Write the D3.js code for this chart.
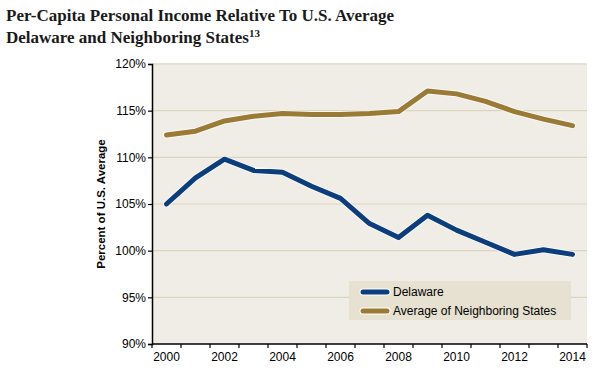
<!DOCTYPE html>
<html>
<head>
<meta charset="utf-8">
<script src="https://cdn.jsdelivr.net/npm/d3@7"></script>
<style>
  body { margin: 0; background: #fff; }
  svg { display: block; }
</style>
</head>
<body>
<script>
// chart data
const years = d3.range(2000, 2015);
const delaware = [105.0, 107.8, 109.8, 108.6, 108.4, 106.9, 105.6, 102.9, 101.4, 103.8, 102.2, 100.9, 99.6, 100.1, 99.6];
const neighbors = [112.4, 112.8, 113.9, 114.4, 114.7, 114.6, 114.6, 114.7, 114.9, 117.1, 116.8, 116.0, 114.9, 114.1, 113.4];
const yTicks = [90, 95, 100, 105, 110, 115, 120];
const xLabels = [2000, 2002, 2004, 2006, 2008, 2010, 2012, 2014];

const series = [
    { name: "Delaware", values: delaware, color: "#0c3d7d" },
    { name: "Average of Neighboring States", values: neighbors, color: "#9a7a35" }
];

const W = 599, H = 374;
const margin = { left: 152, right: 12, top: 64, bottom: 30 };

const svg = d3.select("body").append("svg").attr("width", W).attr("height", H);

// title
const title = svg.append("g").attr("font-family", "'Liberation Serif', 'DejaVu Serif', serif")
    .attr("font-weight", "bold").attr("fill", "#1a1a1a").attr("font-size", 17);
title.append("text").attr("x", 6).attr("y", 21).text("Per-Capita Personal Income Relative To U.S. Average");
const t2 = title.append("text").attr("x", 6).attr("y", 43);
t2.append("tspan").text("Delaware and Neighboring States");
t2.append("tspan").attr("font-size", 11).attr("dy", -6).text("13");

const x = d3.scaleBand().domain(years).range([margin.left, W - margin.right]);
const y = d3.scaleLinear().domain([90, 120]).range([H - margin.bottom, margin.top]);

// plot background
svg.append("rect")
    .attr("x", margin.left).attr("y", y(120) - 1)
    .attr("width", x.range()[1] - margin.left).attr("height", y(90) - y(120) + 1)
    .attr("fill", "#f0ede6");

// grid
svg.append("g").selectAll("line").data(yTicks.filter(d => d > 90)).join("line")
    .attr("x1", margin.left).attr("x2", x.range()[1])
    .attr("y1", d => y(d)).attr("y2", d => y(d))
    .attr("stroke", "#dcd5bd").attr("stroke-width", 1.2);

// y axis
const yAxis = svg.append("g").attr("transform", `translate(${margin.left},0)`)
    .call(d3.axisLeft(y).tickValues(yTicks).tickSize(4).tickFormat(d => d + "%"));
yAxis.select(".domain").attr("stroke", "#000").attr("stroke-width", 1.5);
yAxis.selectAll(".tick line").attr("stroke", "#000").attr("stroke-width", 1.2);
yAxis.selectAll("text").attr("font-family", "'Liberation Sans', Arial, sans-serif")
    .attr("font-size", 12).attr("fill", "#000").attr("x", -6);

// x axis: ticks at band edges, labels every other year
const xAxisG = svg.append("g").attr("transform", `translate(0,${y(90)})`);
xAxisG.append("line").attr("x1", margin.left).attr("x2", x.range()[1])
    .attr("stroke", "#000").attr("stroke-width", 1.5);
xAxisG.selectAll("line.tk").data(years.concat([2015])).join("line").attr("class", "tk")
    .attr("x1", d => d === 2015 ? x.range()[1] : x(d))
    .attr("x2", d => d === 2015 ? x.range()[1] : x(d))
    .attr("y1", 0).attr("y2", 4).attr("stroke", "#000").attr("stroke-width", 1.2);
xAxisG.selectAll("text").data(xLabels).join("text")
    .attr("x", d => x(d) + x.bandwidth() / 2).attr("y", 17)
    .attr("text-anchor", "middle")
    .attr("font-family", "'Liberation Sans', Arial, sans-serif").attr("font-size", 12)
    .text(d => d);

// y axis label
svg.append("text")
    .attr("transform", `translate(105,${(y(90) + y(120)) / 2}) rotate(-90)`)
    .attr("text-anchor", "middle")
    .attr("font-family", "'Liberation Sans', Arial, sans-serif")
    .attr("font-size", 11.5).attr("font-weight", "bold")
    .text("Percent of U.S. Average");

// lines
const line = d3.line().x((d, i) => x(years[i]) + x.bandwidth() / 2).y(d => y(d));
series.forEach(s => {
    svg.append("path").attr("d", line(s.values)).attr("fill", "none")
        .attr("stroke", "#fff").attr("stroke-opacity", 0.7).attr("stroke-width", 7)
        .attr("stroke-linejoin", "round").attr("stroke-linecap", "round");
    svg.append("path").attr("d", line(s.values)).attr("fill", "none")
        .attr("stroke", s.color).attr("stroke-width", 5)
        .attr("stroke-linejoin", "round").attr("stroke-linecap", "round");
});

// legend
const lg = svg.append("g").attr("transform", "translate(349,281)");
lg.append("rect").attr("width", 222).attr("height", 39).attr("fill", "#e6e1d0");
series.forEach((s, i) => {
    const gy = 11 + i * 19;
    lg.append("line").attr("x1", 14).attr("x2", 38).attr("y1", gy).attr("y2", gy)
        .attr("stroke", "#fff").attr("stroke-width", 7).attr("stroke-linecap", "round");
    lg.append("line").attr("x1", 14).attr("x2", 38).attr("y1", gy).attr("y2", gy)
        .attr("stroke", s.color).attr("stroke-width", 5).attr("stroke-linecap", "round");
    lg.append("text").attr("x", 44).attr("y", gy + 4)
        .attr("font-family", "'Liberation Sans', Arial, sans-serif").attr("font-size", 12)
        .text(s.name);
});
</script>
</body>
</html>
